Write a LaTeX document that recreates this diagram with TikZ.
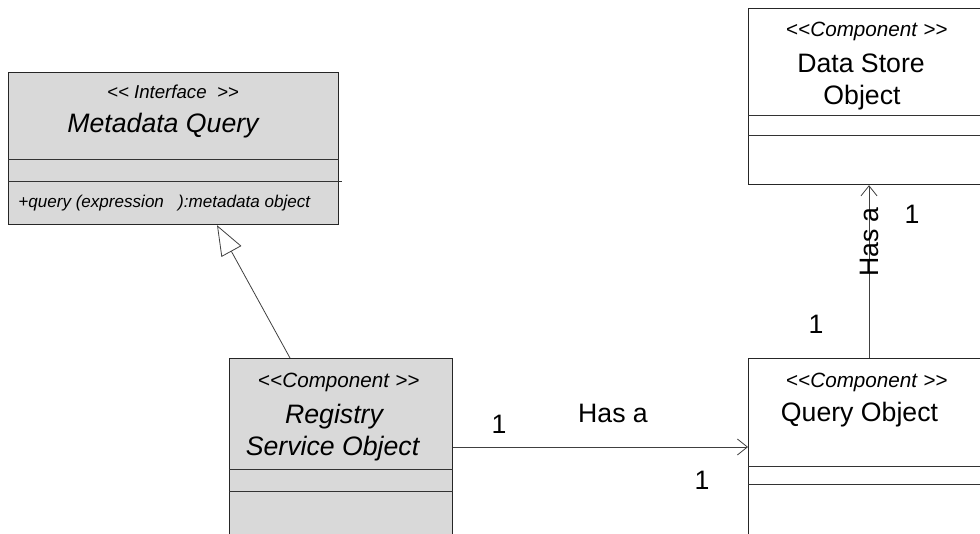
\documentclass[tikz,border=0pt]{standalone}
\usepackage{fontspec}
\setmainfont{Liberation Sans}
\usetikzlibrary{arrows.meta}

\newcommand{\stereo}[1]{<\kern0pt<\textit{#1} >\kern0pt>}

\begin{document}
\begin{tikzpicture}[x=0.75pt,y=-0.75pt,line width=0.6pt,
                    font=\fontsize{20}{24}\selectfont]
  \tikzstyle{classbox}=[draw=black!85,line width=0.9pt,anchor=north west,inner sep=0pt]
  \tikzstyle{divider}=[draw=black!80,line width=0.7pt]
  \tikzstyle{label}=[anchor=base,inner sep=0pt]
  \tikzstyle{stereotype}=[label,font=\fontsize{15.5}{17}\selectfont]
  \tikzstyle{assoc}=[draw=black!75,-{Straight Barb[length=7.5pt,width=12pt]}]
  \tikzstyle{realize}=[draw=black!75,-{Triangle[open,length=22.5pt,width=17pt,fill=white]}]

  \useasboundingbox (0,0) rectangle (980,534);
  \clip (0,0) rectangle (980,534);

  \node[classbox,fill=black!15,minimum width=247.5pt,minimum height=114pt] (Meta) at (8,72) {};
  \node[classbox,fill=black!15,minimum width=167.25pt,minimum height=151.5pt] (Registry) at (229,358) {};
  \node[classbox,minimum width=196.5pt,minimum height=132pt] (Store) at (748,8) {};
  \node[classbox,minimum width=196.5pt,minimum height=151.5pt] (Query) at (748,358) {};

  \draw[divider] (Meta.west |- 0,159) -- (Meta.east |- 0,159)
                 (Meta.west |- 0,181) -- (342,181);
  \draw[divider] (Registry.west |- 0,469) -- (Registry.east |- 0,469)
                 (Registry.west |- 0,491) -- (Registry.east |- 0,491);
  \draw[divider] (Store.west |- 0,115) -- (Store.east |- 0,115)
                 (Store.west |- 0,135) -- (Store.east |- 0,135);
  \draw[divider] (Query.west |- 0,466) -- (Query.east |- 0,466)
                 (Query.west |- 0,484) -- (Query.east |- 0,484);

  \node[stereotype,font=\fontsize{14}{16}\selectfont\itshape] (MetaSt) at (173,99) {<\kern0pt< Interface\ \ >\kern0pt>};
  \node[label,font=\fontsize{20}{24}\selectfont\itshape] (MetaName) at (163,133) {Metadata Query};
  \node[label,anchor=base west,font=\fontsize{12.8}{14}\selectfont\itshape] (MetaOp) at (18,208) {+query (expression\ \ \ ):metadata object};

  \node[stereotype] (RegSt) at (339,387) {\stereo{Component}};
  \node[label,font=\fontsize{20}{24}\selectfont\itshape] (RegName) at (334,423) {Registry};
  \node[label,font=\fontsize{20}{24}\selectfont\itshape] (RegName2) at (332.5,455) {Service Object};

  \node[stereotype] (StoreSt) at (867,37) {\stereo{Component}};
  \node[label] (StoreName) at (861,73) {Data Store};
  \node[label] (StoreName2) at (862,105) {Object};

  \node[stereotype] (QuerySt) at (867,387) {\stereo{Component}};
  \node[label] (QueryName) at (859.5,421) {Query Object};

  \coordinate (RegTop) at ([xshift=45.75pt]Registry.north west);
  \coordinate (MetaBot) at ([xshift=156.75pt]Meta.south west);
  \draw[realize] (RegTop) -- (MetaBot);

  \draw[assoc] ([yshift=-66.75pt]Registry.north east) -- ([yshift=-66.75pt]Query.north west);
  \coordinate (QueryTop) at ([xshift=90.75pt]Query.north west);
  \draw[assoc] (QueryTop) -- (QueryTop |- Store.south);

  \node[label] (HasA) at (613,422) {Has a};
  \node[label] (RegMult) at (499,433) {1};
  \node[label] (QueryMult) at (702,489) {1};
  \node[label,rotate=90] (HasA2) at (878,242) {Has a};
  \node[label] (StoreMult) at (912,224) {1};
  \node[label] (QueryMult2) at (816,333) {1};
\end{tikzpicture}
\end{document}
